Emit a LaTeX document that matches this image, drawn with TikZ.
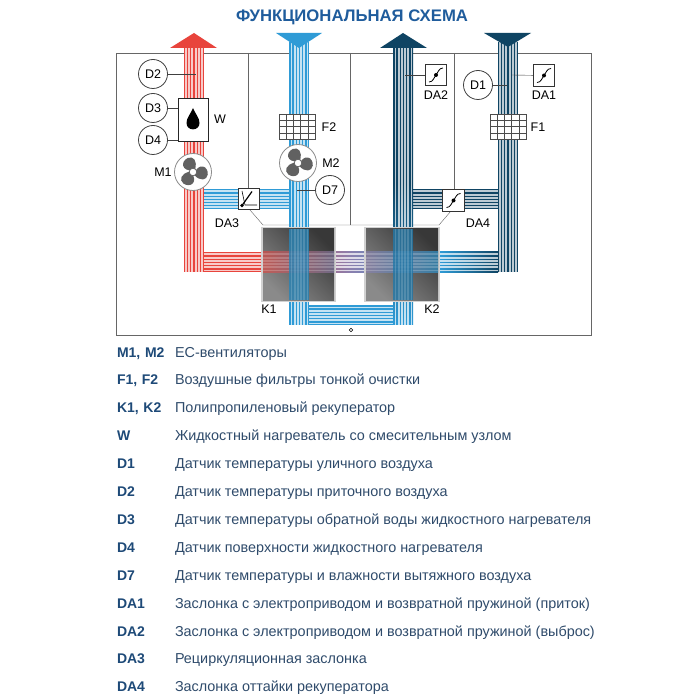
\documentclass[tikz,border=0pt]{standalone}
\usepackage{fontspec}
\setmainfont{Liberation Sans}
\usetikzlibrary{positioning, shapes.geometric}
\definecolor{redair}{HTML}{E8443C}
\definecolor{blueair}{HTML}{2F9BD6}
\definecolor{navyair}{HTML}{0F4463}
\definecolor{mixair}{HTML}{8A7FAE}
\definecolor{titleblue}{HTML}{1F5C9C}
\definecolor{keyblue}{HTML}{1E4A78}
\definecolor{legendgray}{HTML}{2F4B6B}
% stripes of a duct: x or y of its first edge, then start and end along it
\newcommand{\ductstripesV}[3]{\foreach \i in {0,...,5} {\fill[white, opacity=.72] ({#1+1.5+\i*3.2},#2) rectangle ({#1+3.4+\i*3.2},#3);}}
\newcommand{\ductstripesH}[3]{\foreach \i in {0,...,5} {\fill[white, opacity=.72] (#2,{#1+1.5+\i*3.2}) rectangle (#3,{#1+3.4+\i*3.2});}}
\begin{document}
\begin{tikzpicture}[
  x=1pt, y=-1pt,
  node distance=0pt,
  sensor/.style={circle, draw=black!75, fill=white, thick, minimum size=29pt, inner sep=0pt, font=\fontsize{12.5}{12.5}\selectfont},
  damper/.style={rectangle, draw=black!80, fill=white, thick, minimum size=21.5pt, inner sep=0pt},
  fanbox/.style={circle, draw=black!45, fill=white, thick, minimum size=37pt, inner sep=0pt},
  filterbox/.style={rectangle, draw=black!70, fill=white, minimum width=36pt, minimum height=25pt, inner sep=0pt},
  lbl/.style={font=\fontsize{12.5}{12.5}\selectfont, inner sep=0pt},
  leader/.style={draw=black!75, thin},
  wall/.style={draw=black!60, thin},
  coreshade/.style={top color=black!78, bottom color=black!46, shading angle=-45},
  legkey/.style={font=\fontsize{14}{14}\bfseries\selectfont, text=keyblue, text width=58pt, align=left,
                 text height=10pt, text depth=3pt, minimum height=27.9pt, inner sep=0pt, outer sep=0pt},
  legtext/.style={font=\fontsize{14.4}{14}\selectfont, text=legendgray, align=left,
                 text height=10pt, text depth=3pt, minimum height=27.9pt, inner sep=0pt, outer sep=0pt},
  fanblades/.pic={
    \foreach \a in {20,140,260} {
      \fill[black!62, rotate=\a] (0,-2) .. controls (-10,-4) and (-9,-14) .. (0,-15)
        .. controls (6,-15) and (8,-9) .. (3,-2) -- cycle;
    }
    \fill[white] (0,0) circle (3.8);
    \draw[black!62, thick] (0,0) circle (3.8);
  },
  sigmoid/.pic={
    \draw[black, thick] (-7,7) .. controls (-2.5,7) and (-2.5,2.5) .. (0,0)
      .. controls (2.5,-2.5) and (2.5,-7) .. (7,-7);
    \fill[black] (0,0) circle (2);
  }
]
\useasboundingbox (0,0) rectangle (700,700);
\fill[white] (0,0) rectangle (700,700);

\node[font=\fontsize{16.7}{17}\bfseries\selectfont, text=titleblue, inner sep=0pt] (title) at (352,17) {ФУНКЦИОНАЛЬНАЯ СХЕМА};

% frame and walls
\draw[draw=black!60, semithick] (116,53) rectangle (591,335);
\draw[wall] (248,53) -- (248,190);
\draw[wall] (350.5,53) -- (350.5,225);
\draw[wall] (454,53) -- (454,190);
\draw[wall] (250,210) -- (263,225) -- (439,225) -- (451,211);

% horizontal bands
\fill[blueair] (203,189) rectangle (289,209);
\ductstripesH{189}{203}{289}
\fill[navyair] (413,189) rectangle (498,209);
\ductstripesH{189}{413}{498}
\fill[blueair] (309,305) rectangle (393,324.5);
\ductstripesH{305}{309}{393}
\fill[redair] (203,252) rectangle (261.5,272);
\shade[left color=redair, right color=mixair] (261,252) rectangle (350.5,272);
\shade[left color=mixair, right color=blueair] (350,252) rectangle (440.5,272);
\shade[left color=blueair, right color=navyair] (440,252) rectangle (498,272);
\ductstripesH{252}{203}{498}

% vertical ducts
\fill[redair] (183.5,42) rectangle (203.5,272);
\ductstripesV{183.5}{42}{272}
\fill[blueair] (289,42) rectangle (309,324.5);
\ductstripesV{289}{42}{324.5}
\shade[top color=navyair, bottom color=blueair, middle color=navyair] (393,42) rectangle (413,324.5);
\ductstripesV{393}{42}{324.5}
\fill[navyair] (497.5,42) rectangle (517.5,272);
\ductstripesV{497.5}{42}{272}

% air arrows
\fill[redair] (170,48) -- (194,33) -- (217,48) -- cycle;
\fill[blueair] (276,33) -- (322,33) -- (299,48) -- cycle;
\fill[navyair] (380,48) -- (403,33) -- (427,48) -- cycle;
\fill[navyair] (484,33) -- (531,33) -- (508,47) -- cycle;

% recuperators
\fill[black!18] (261,227) rectangle (336,302);
\fill[black!18] (364,227) rectangle (440,302);
\shade[coreshade] (263,229) rectangle (334,300);
\shade[coreshade] (366,229) rectangle (438,300);

% ducts seen through the recuperators
\shade[left color=redair, right color=mixair, opacity=.6] (263,252) rectangle (334,272);
\shade[left color=mixair, right color=blueair, opacity=.65] (366,252) rectangle (438,272);
\foreach \i in {0,...,5} {
  \fill[white, opacity=.2] (263,{252+1.5+\i*3.2}) rectangle (334,{252+3.4+\i*3.2});
  \fill[white, opacity=.2] (366,{252+1.5+\i*3.2}) rectangle (438,{252+3.4+\i*3.2});
}
\fill[blueair!85!black, opacity=.8] (289,229) rectangle (309,300);
\fill[blueair!60!navyair, opacity=.8] (393,229) rectangle (413,300);
\foreach \i in {0,...,5} {
  \fill[white, opacity=.16] ({289+1.5+\i*3.2},229) rectangle ({289+3.4+\i*3.2},300);
  \fill[white, opacity=.16] ({393+1.5+\i*3.2},229) rectangle ({393+3.4+\i*3.2},300);
}

% heater
\node[rectangle, draw=black!85, fill=white, thick, minimum width=30pt, minimum height=43pt, inner sep=0pt] (heatW) at (193,119.5) {};
\fill[black] (193,108) .. controls (190,115) and (186.5,118) .. (186.5,123)
  .. controls (186.5,131.5) and (199.5,131.5) .. (199.5,123) .. controls (199.5,118) and (196,115) .. (193,108) -- cycle;

% filters
\node[filterbox] (filterF2) at (297,126.5) {};
\node[filterbox] (filterF1) at (508,126.5) {};
\foreach \fx in {279,490} {
  \foreach \i in {1,...,4} {\draw[black!70] ({\fx+\i*7.2},114) -- ({\fx+\i*7.2},139);}
  \foreach \i in {1,2,3} {\draw[black!70] (\fx,{114+\i*6.25}) -- ({\fx+36},{114+\i*6.25});}
}

% fans
\node[fanbox] (fanM1) at (193,172) {};
\pic at (fanM1) {fanblades};
\node[fanbox] (fanM2) at (298,163) {};
\pic at (fanM2) {fanblades};

% sensors
\coordinate (tapD2) at (196,74);
\coordinate (tapD7) at (297,190);
\coordinate (tapD1) at (507,85);
\coordinate (tapDA2) at (405,75);
\coordinate (tapDA1) at (512,75);
\draw[leader] (153,74) -- (tapD2);
\draw[leader] (330,190) -- (tapD7);
\draw[leader] (478,85) -- (tapD1);
\node[sensor] (D2) at (153,74) {D2};
\node[sensor] (D3) at (153,108) {D3};
\node[sensor] (D4) at (153,140) {D4};
\node[sensor] (D7) at (330,190) {D7};
\node[sensor] (D1) at (478,85) {D1};
\draw[leader] (D3.east) -- (D3.east -| heatW.west);
\draw[leader] (D4.east) -- (D4.east -| heatW.west);

% dampers
\draw[leader] (544,75.5) -- (tapDA1);
\draw[leader] (436,75) -- (tapDA2);
\node[damper] (DA1) at (544,75.5) {};
\node[damper] (DA2) at (436,75) {};
\node[damper] (DA3) at (249,199) {};
\node[damper] (DA4) at (453.5,200.5) {};
\pic at (DA1) {sigmoid};
\pic at (DA2) {sigmoid};
\pic at (DA4) {sigmoid};
\draw[black, semithick] (DA3.center) ++(-7,-8) -- ++(3,14) -- ++(12,0);
\draw[black, very thick] (DA3.center) ++(-7,6.5) -- ++(10,-14);
\fill[black] (DA3.center) ++(-7,6.5) circle (1.8);

% labels
\node[lbl] (lblW) at (220,119) {W};
\node[lbl] (lblF2) at (329,127) {F2};
\node[lbl] (lblF1) at (538,127) {F1};
\node[lbl] (lblM1) at (163,172) {M1};
\node[lbl] (lblM2) at (331,163) {M2};
\node[lbl] (lblDA1) at (544,95.5) {DA1};
\node[lbl] (lblDA2) at (436,95.5) {DA2};
\node[lbl] (lblDA3) at (227,223) {DA3};
\node[lbl] (lblDA4) at (478,223) {DA4};
\node[lbl] (lblK1) at (269,309) {K1};
\node[lbl] (lblK2) at (432,309) {K2};
\node[circle, draw=black, semithick, minimum size=3.6pt, inner sep=0pt] (drain) at (351,330) {};

% legend
\node[legkey] (kM) at (146,353.5) {M1, M2};
\node[legtext, right=0pt of kM] (tM) {ЕС-вентиляторы};
\node[legkey, below=of kM] (kF) {F1, F2};
\node[legtext, right=0pt of kF] (tF) {Воздушные фильтры тонкой очистки};
\node[legkey, below=of kF] (kK) {K1, K2};
\node[legtext, right=0pt of kK] (tK) {Полипропиленовый рекуператор};
\node[legkey, below=of kK] (kW) {W};
\node[legtext, right=0pt of kW] (tW) {Жидкостный нагреватель со смесительным узлом};
\node[legkey, below=of kW] (kDa) {D1};
\node[legtext, right=0pt of kDa] (tDa) {Датчик температуры уличного воздуха};
\node[legkey, below=of kDa] (kDb) {D2};
\node[legtext, right=0pt of kDb] (tDb) {Датчик температуры приточного воздуха};
\node[legkey, below=of kDb] (kDc) {D3};
\node[legtext, right=0pt of kDc] (tDc) {Датчик температуры обратной воды жидкостного нагревателя};
\node[legkey, below=of kDc] (kDd) {D4};
\node[legtext, right=0pt of kDd] (tDd) {Датчик поверхности жидкостного нагревателя};
\node[legkey, below=of kDd] (kDe) {D7};
\node[legtext, right=0pt of kDe] (tDe) {Датчик температуры и влажности вытяжного воздуха};
\node[legkey, below=of kDe] (kDAa) {DA1};
\node[legtext, right=0pt of kDAa] (tDAa) {Заслонка с электроприводом и возвратной пружиной (приток)};
\node[legkey, below=of kDAa] (kDAb) {DA2};
\node[legtext, right=0pt of kDAb] (tDAb) {Заслонка с электроприводом и возвратной пружиной (выброс)};
\node[legkey, below=of kDAb] (kDAc) {DA3};
\node[legtext, right=0pt of kDAc] (tDAc) {Рециркуляционная заслонка};
\node[legkey, below=of kDAc] (kDAd) {DA4};
\node[legtext, right=0pt of kDAd] (tDAd) {Заслонка оттайки рекуператора};
\end{tikzpicture}
\end{document}
